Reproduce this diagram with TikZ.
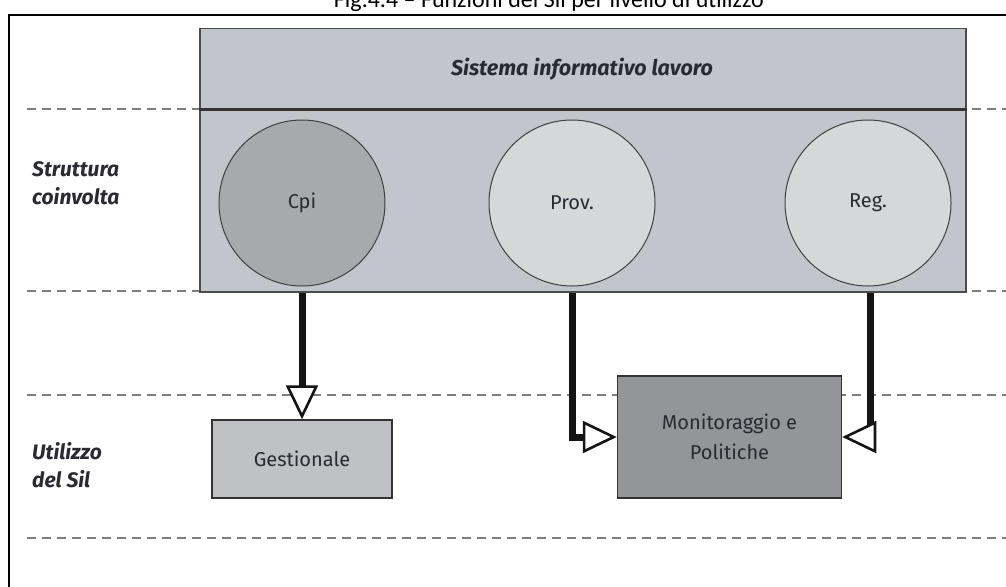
\documentclass[tikz,border=0pt]{standalone}
\usepackage{fontspec}
\setmainfont{Fira Sans}
\newfontfamily\captionfont{Carlito}
\usetikzlibrary{arrows.meta}

\definecolor{silfill}{HTML}{C2C5CB}
\definecolor{cpifill}{HTML}{A8A9AC}
\definecolor{lightcirc}{HTML}{D6D7D9}
\definecolor{gestfill}{HTML}{C0C1C5}
\definecolor{monfill}{HTML}{949598}
\definecolor{inktext}{HTML}{2A2A33}
\definecolor{guidegray}{HTML}{7E7E7E}

\tikzset{
  guide/.style={draw=guidegray, line width=2.6pt, dash pattern=on 9pt off 6pt},
  level/.style={font=\fontsize{21}{24}\selectfont\bfseries\itshape, text=inktext, anchor=base west, inner sep=0pt},
  actor/.style={circle, draw=black!75, line width=1pt, minimum size=166pt, inner sep=0pt,
                font=\fontsize{20}{24}\selectfont, text=inktext},
  usebox/.style={rectangle, draw=black!80, line width=1.5pt, inner sep=0pt,
                 font=\fontsize{20}{30}\selectfont, text=inktext, align=center},
  flow/.style={draw=black!92, line width=7pt,
               -{Triangle[length=34pt, width=32pt, line width'=2.6pt, fill=white]}},
}

\begin{document}
\begin{tikzpicture}[x=1pt, y=-1pt]
\useasboundingbox (0,0) rectangle (1006,586);

% caption above the frame
\node[font=\captionfont\fontsize{24}{28}\selectfont, anchor=base] (caption) at (549,8)
  {Fig.4.4 – Funzioni del Sil per livello di utilizzo};

% outer frame (top and left edges)
\draw[line width=2pt] (9,620) -- (9,15) -- (1030,15);

% level separators
\draw[guide] (27,109) -- (199,109);
\draw[guide] (972,109) -- (1010,109);
\draw[guide] (27,291) -- (199,291);
\draw[guide] (972,291) -- (1010,291);
\draw[guide] (27,395) -- (1010,395);
\draw[guide] (27,538) -- (1010,538);

% information system block
\node[rectangle, draw=black!70, line width=1.5pt, fill=silfill, inner sep=0pt,
      minimum width=766pt, minimum height=263pt, anchor=north west] (sil) at (199,28) {};
\draw[line width=3pt, draw=black!80] (sil.west |- 0,109) -- (sil.east |- 0,109);
\node[font=\fontsize{21.5}{24}\selectfont\bfseries\itshape, text=inktext] (siltitle) at (582,69)
  {Sistema informativo lavoro};

% row labels
\node[level] (lab1a) at (32,176) {Struttura};
\node[level] (lab1b) at (32,204) {coinvolta};
\node[level] (lab2a) at (32,459) {Utilizzo};
\node[level] (lab2b) at (32,487) {del Sil};

% involved structures
\node[actor, fill=cpifill] (cpi) at (302,203) {Cpi};
\node[actor, fill=lightcirc] (prov) at (572,203) {Prov.};
\node[actor, fill=lightcirc] (reg) at (868,203) {Reg.};

% uses of the system
\node[usebox, fill=gestfill, minimum width=180pt, minimum height=78pt] (gest) at (302,459) {Gestionale};
\node[usebox, fill=monfill, minimum width=224pt, minimum height=122pt] (mon) at (729.5,437)
  {Monitoraggio e\\Politiche};

% flows
\draw[flow] (cpi |- sil.south) -- (gest.north);
\draw[flow] (prov |- sil.south) |- (mon.west);
\draw[flow] ([xshift=2pt]reg |- sil.south) |- (mon.east);
\end{tikzpicture}
\end{document}
